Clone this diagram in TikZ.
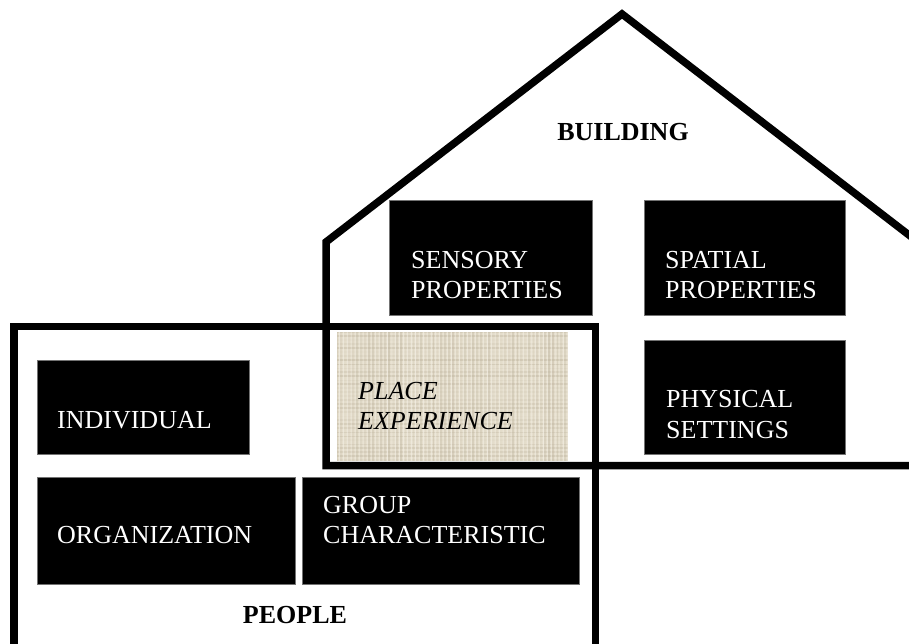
\documentclass[tikz,border=0pt]{standalone}
\usepackage{fontspec}
\setmainfont{Liberation Serif}
\begin{document}
\begin{tikzpicture}[x=1pt,y=-1pt,
  blackbox/.style={draw=black!55,line width=0.6pt,fill=black,inner sep=0pt,outer sep=0pt,anchor=north west},
  placebox/.style={fill={rgb,255:red,230;green,223;blue,206},inner sep=0pt,outer sep=0pt,anchor=north west},
  wlab/.style={text=white,anchor=base west,inner sep=0pt,font=\fontsize{26}{30}\selectfont},
  ilab/.style={text=black,anchor=base west,inner sep=0pt,font=\fontsize{26}{30}\selectfont\itshape},
  blab/.style={text=black,anchor=base,inner sep=0pt,font=\fontsize{26}{30}\selectfont\bfseries},
  outline/.style={line width=7.5pt,draw=black,line join=miter}]
\clip (0,0) rectangle (909,644);
\fill[white] (0,0) rectangle (909,644);

% place experience texture
\node[placebox,minimum width=231pt,minimum height=129pt] (place) at (337,332) {};
\begin{scope}
\clip (place.north west) rectangle (place.south east);
\pgfmathsetseed{11}
\foreach \i in {0,...,57} {
  \pgfmathsetmacro\o{0.05+0.4*rnd}
  \pgfmathsetmacro\w{0.8+1.2*rnd}
  \draw[line width=\w pt,draw={rgb,255:red,190;green,180;blue,158},opacity=\o] (337+4*\i,332) -- (337+4*\i,461);
}
\foreach \i in {0,...,32} {
  \pgfmathsetmacro\o{0.05+0.4*rnd}
  \pgfmathsetmacro\w{0.8+1.2*rnd}
  \draw[line width=\w pt,draw={rgb,255:red,190;green,180;blue,158},opacity=\o] (337,332+4*\i) -- (568,332+4*\i);
}
\foreach \i in {0,...,57} {
  \pgfmathsetmacro\o{0.2+0.5*rnd}
  \draw[line width=1pt,draw={rgb,255:red,244;green,240;blue,230},opacity=\o] (339+4*\i,332) -- (339+4*\i,461);
}
\end{scope}

% black boxes
\node[blackbox,minimum width=203pt,minimum height=115pt] (sensory) at (389,200) {};
\node[blackbox,minimum width=201pt,minimum height=115pt] (spatial) at (644,200) {};
\node[blackbox,minimum width=201pt,minimum height=114pt] (physical) at (644,340) {};
\node[blackbox,minimum width=212pt,minimum height=94pt] (individual) at (37,360) {};
\node[blackbox,minimum width=258pt,minimum height=107pt] (organization) at (37,477) {};
\node[blackbox,minimum width=277pt,minimum height=107pt] (group) at (302,477) {};

% outlines
\draw[outline] (326,465.5) -- (326,242) -- (622,14) -- (918,242) -- (918,465.5) -- cycle;
\draw[outline] (14,326.5) rectangle (595.5,652);

% labels
\node[blab] (tbuilding) at (623,141) {BUILDING};
\node[wlab] (ts1) at (411,268) {SENSORY};
\node[wlab] (ts2) at (411,298) {PROPERTIES};
\node[wlab] (tp1) at (665,268) {SPATIAL};
\node[wlab] (tp2) at (665,298) {PROPERTIES};
\node[wlab] (th1) at (666,407) {PHYSICAL};
\node[wlab] (th2) at (666,438) {SETTINGS};
\node[ilab] (te1) at (358,399) {PLACE};
\node[ilab] (te2) at (358,429) {EXPERIENCE};
\node[wlab] (ti) at (57,428) {INDIVIDUAL};
\node[wlab] (to) at (57,543) {ORGANIZATION};
\node[wlab] (tg1) at (323,513) {GROUP};
\node[wlab] (tg2) at (323,543) {CHARACTERISTIC};
\node[blab] (tpeople) at (295,623) {PEOPLE};
\end{tikzpicture}
\end{document}
